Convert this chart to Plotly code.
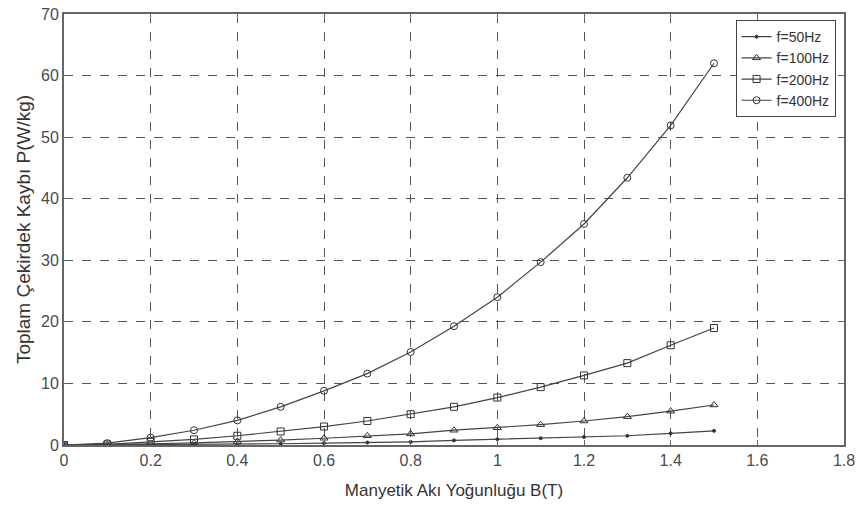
import plotly.graph_objects as go

B = [0, 0.1, 0.2, 0.3, 0.4, 0.5, 0.6, 0.7, 0.8, 0.9, 1.0, 1.1, 1.2, 1.3, 1.4, 1.5]
p50 = [0, 0.02, 0.05, 0.1, 0.15, 0.2, 0.3, 0.4, 0.5, 0.75, 0.95, 1.1, 1.3, 1.5, 1.9, 2.3]
p100 = [0, 0.05, 0.2, 0.35, 0.55, 0.8, 1.1, 1.5, 1.8, 2.4, 2.8, 3.3, 3.9, 4.6, 5.5, 6.5]
p200 = [0, 0.1, 0.5, 0.9, 1.5, 2.2, 3.0, 3.9, 5.0, 6.2, 7.7, 9.4, 11.3, 13.3, 16.2, 19.0]
p400 = [0, 0.3, 1.2, 2.4, 4.0, 6.2, 8.8, 11.6, 15.1, 19.3, 24.0, 29.7, 35.9, 43.4, 51.9, 62.0]

series = [
    ("f=50Hz", p50, "circle", 3),
    ("f=100Hz", p100, "triangle-up-open", 7),
    ("f=200Hz", p200, "square-open", 7),
    ("f=400Hz", p400, "circle-open", 7),
]

x_ticks = [0, 0.2, 0.4, 0.6, 0.8, 1.0, 1.2, 1.4, 1.6, 1.8]
x_labels = ["0", "0.2", "0.4", "0.6", "0.8", "1", "1.2", "1.4", "1.6", "1.8"]
y_ticks = [0, 10, 20, 30, 40, 50, 60, 70]

FONT = "Liberation Sans, Arial"

fig = go.Figure()
for name, vals, sym, sz in series:
    fig.add_trace(go.Scatter(
        x=B, y=vals, name=name, mode="lines+markers",
        line=dict(color="#444444", width=1.2),
        marker=dict(symbol=sym, size=sz, color="#333333", line=dict(color="#333333", width=1)),
    ))

axis_common = dict(
    showline=True, linecolor="#666666", linewidth=2, mirror="ticks",
    ticks="inside", ticklen=5, tickcolor="#666666",
    showgrid=True, gridcolor="#555555", griddash="dash", gridwidth=1,
    zeroline=False, ticklabeloverflow="allow", automargin=False,
    tickfont=dict(family=FONT, size=16, color="#4a4a4a"),
)

fig.update_layout(
    width=857, height=511,
    margin=dict(l=64, r=13, t=14, b=66),
    paper_bgcolor="white", plot_bgcolor="white",
    xaxis=dict(range=[0, 1.8], tickvals=x_ticks, ticktext=x_labels,
               title=dict(text="Manyetik Akı Yoğunluğu B(T)", standoff=16,
                          font=dict(family=FONT, size=17, color="#333333")),
               **axis_common),
    yaxis=dict(range=[0, 70], tickvals=y_ticks,
               title=dict(text="Toplam Çekirdek Kaybı P(W/kg)", standoff=5,
                          font=dict(family=FONT, size=19, color="#333333")),
               **axis_common),
    legend=dict(x=0.861, y=0.986, xanchor="left", yanchor="top",
                bgcolor="white", bordercolor="#444444", borderwidth=1,
                font=dict(family=FONT, size=14, color="#333333"),
                tracegroupgap=0, itemwidth=30),
    showlegend=True,
)

fig.write_html("out.html")
